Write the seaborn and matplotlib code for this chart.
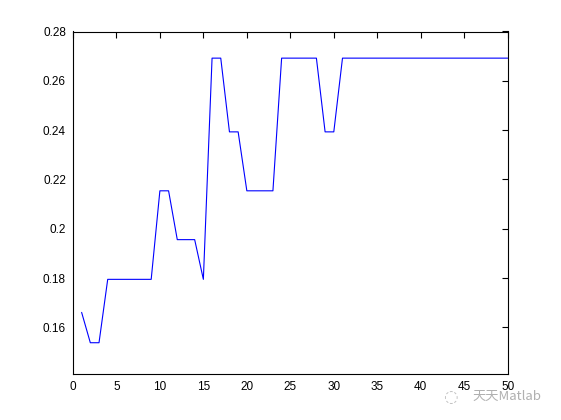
import matplotlib
matplotlib.use("Agg")
import matplotlib.pyplot as plt
import seaborn as sns
import numpy as np
import pandas as pd
from matplotlib.ticker import FuncFormatter

iterations = list(range(1, 51))
fitness = ([0.1661, 0.1538, 0.1538]
           + [0.1795] * 6
           + [0.2154, 0.2154]
           + [0.1956] * 3
           + [0.1795]
           + [0.2692, 0.2692]
           + [0.2393, 0.2393]
           + [0.2154] * 4
           + [0.2692] * 5
           + [0.2393, 0.2393]
           + [0.2692] * 20)
x_ticks = [0, 5, 10, 15, 20, 25, 30, 35, 40, 45, 50]
y_ticks = [0.16, 0.18, 0.20, 0.22, 0.24, 0.26, 0.28]

df = pd.DataFrame({"iter": iterations, "fit": fitness})

sns.set_theme(style="white")
plt.rcParams['font.family'] = ['Liberation Sans', 'DejaVu Sans']

fig = plt.figure(figsize=(5.61, 4.20), dpi=100)
ax = fig.add_axes([0.13, 0.11, 0.775, 0.815])
sns.lineplot(data=df, x="iter", y="fit", ax=ax, color=(0, 0, 1), linewidth=0.8)

ax.set_xlim(0, 50)
ax.set_ylim(0.1412, 0.28)
ax.set_xticks(x_ticks)
ax.set_yticks(y_ticks)
ax.yaxis.set_major_formatter(FuncFormatter(lambda v, p: f"{v:g}"))
ax.set_xlabel("")
ax.set_ylabel("")
ax.tick_params(direction="in", length=4, width=0.8, top=True, right=True,
               labelsize=8.5, colors="black", pad=5)
for s in ax.spines.values():
    s.set_color("black")
    s.set_linewidth(0.8)

fig.text(0.842, 0.055, "天天Matlab", fontsize=9.5, color="#b0b0b0",
         family=['Noto Sans CJK SC', 'DejaVu Sans'], va="center", ha="left")
fig.text(0.79, 0.055, "◌", fontsize=12, color="#c0c0c0", va="center", ha="left",
         family=['DejaVu Sans'])

fig.savefig("out.png", dpi=100)
